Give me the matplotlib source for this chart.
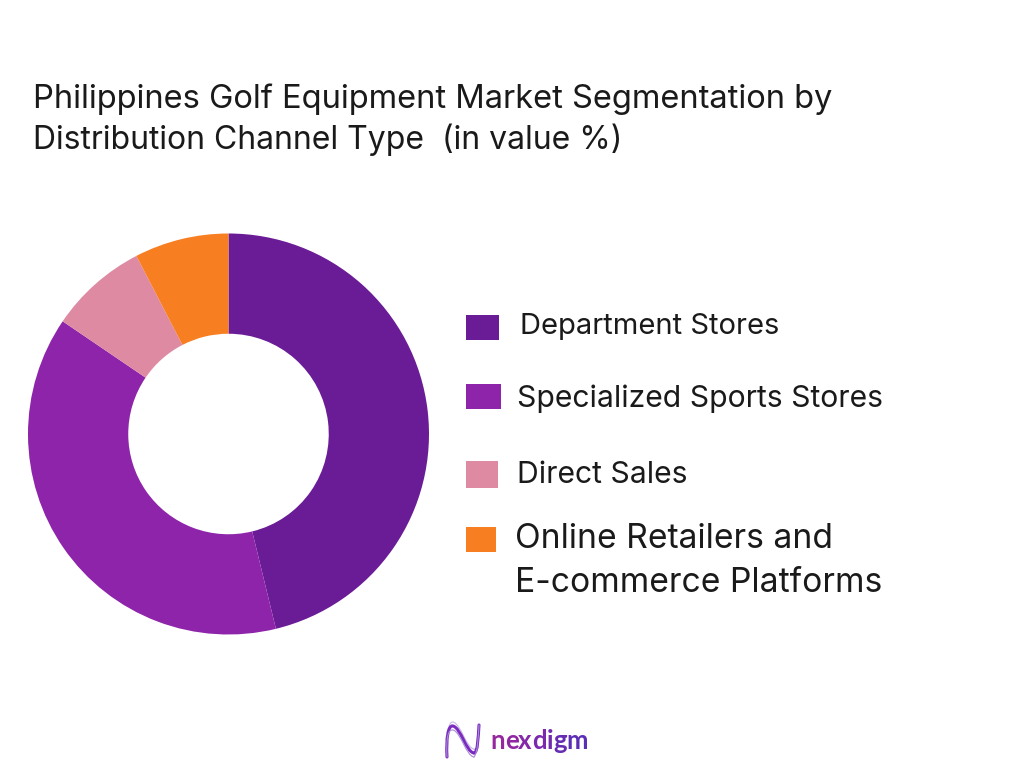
import numpy as np
import matplotlib
matplotlib.use("Agg")
import matplotlib.pyplot as plt
from matplotlib.patches import Rectangle, PathPatch
from matplotlib.path import Path

title_lines = ["Philippines Golf Equipment Market Segmentation by",
               "Distribution Channel Type  (in value %)"]
categories = ["Department Stores", "Specialized Sports Stores", "Direct Sales",
              "Online Retailers and\nE-commerce Platforms"]
values = [46.2, 38.3, 7.9, 7.6]
colors = ["#6A1B96", "#8E24AA", "#DE8AA3", "#F77F22"]

W, H = 1024, 768
FONT = "Inter"
INK = "#1a1a1a"
fig = plt.figure(figsize=(W / 100, H / 100), dpi=100, facecolor="white")

# overlay in pixel coordinates
ov = fig.add_axes([0, 0, 1, 1])
ov.set_xlim(0, W); ov.set_ylim(H, 0); ov.axis("off")

# donut
cx, cy, R = 228.5, 434, 200.5
ax = fig.add_axes([(cx - R) / W, 1 - (cy + R) / H, 2 * R / W, 2 * R / H])
ax.pie(values, colors=colors, startangle=90, counterclock=False, radius=1,
       wedgeprops=dict(width=0.5, linewidth=0))
ax.set_xlim(-1, 1); ax.set_ylim(-1, 1); ax.set_aspect("equal")

# title
for line, y, fs in zip(title_lines, [99, 140], [23.5, 23]):
    ov.text(33, y, line, fontsize=fs, family=FONT, color=INK, va="center", ha="left")

# legend
swatches = [(466, 315, 33, 25), (466, 384, 35, 25), (466, 461, 32, 27), (466, 527, 30, 25)]
label_pos = [(520, 326, 21), (517, 399, 21.7), (517, 475, 21.7), (515, 561, 24.2)]
for (x, y, w, h), (tx, ty, fs), c, lab in zip(swatches, label_pos, colors, categories):
    ov.add_patch(Rectangle((x, y), w, h, facecolor=c, edgecolor="none"))
    ov.text(tx, ty, lab, fontsize=fs, family=FONT, color=INK, va="center", ha="left",
            linespacing=1.47)

# logo: N-shaped wave mark
codes = [Path.MOVETO, Path.CURVE4, Path.CURVE4, Path.CURVE4, Path.CURVE4, Path.CURVE4, Path.CURVE4]
for dy, lw, col in [(-4, 0.8, "#C9B6E4"), (0, 2.2, "#7B2CBF"), (4, 0.8, "#A98AD8")]:
    verts = [(447, 757), (446, 738), (448, 725 + dy), (453, 726 + dy),
             (461, 728 + dy), (466, 752 + dy), (474, 753 + dy)]
    ov.add_patch(PathPatch(Path(verts, codes), fill=False, edgecolor=col, lw=lw, capstyle="round"))
    verts2 = [(474, 753 + dy), (478, 752), (478, 738), (479, 725)]
    ov.add_patch(PathPatch(Path(verts2, codes[:4]), fill=False, edgecolor=col, lw=lw, capstyle="round"))

# wordmark, coloured letter by letter from magenta to violet
word = "nexdigm"
word_cols = ["#96279F", "#8F27A3", "#8428A8", "#7A2AAC", "#702BAF", "#662CB2", "#5C2DB5"]
renderer = fig.canvas.get_renderer()
x = 490.0
for ch, col in zip(word, word_cols):
    t = ov.text(x, 741, ch, fontsize=18.5, family="Lato", weight="bold", color=col,
                va="center", ha="left")
    probe = ov.text(0, 0, ch + ch, fontsize=18.5, family="Lato", weight="bold", alpha=0)
    single = ov.text(0, 0, ch, fontsize=18.5, family="Lato", weight="bold", alpha=0)
    x += probe.get_window_extent(renderer).width - single.get_window_extent(renderer).width
    probe.remove(); single.remove()

fig.savefig("out.png", dpi=100, facecolor="white")
